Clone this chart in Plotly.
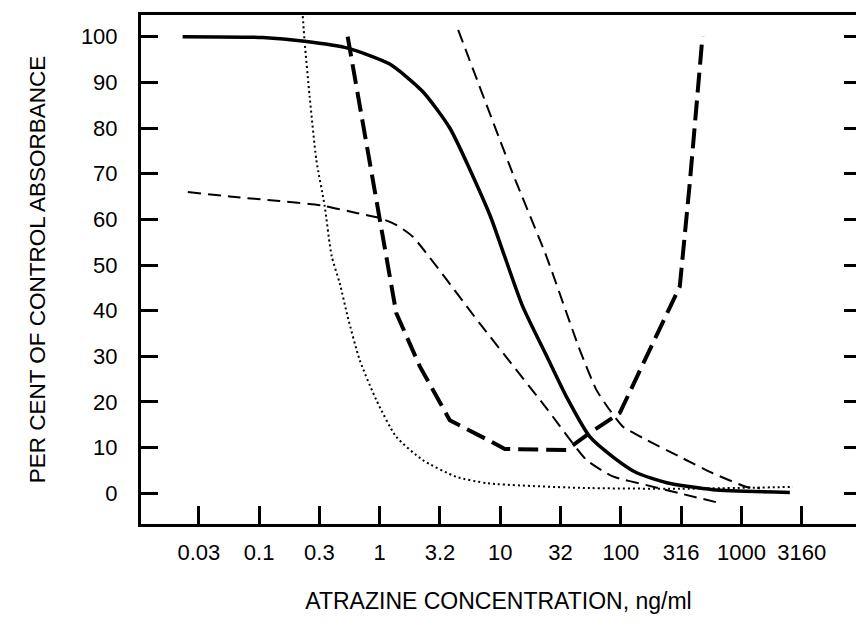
import plotly.graph_objects as go

# ---- data ----
conc_ticks = [0.0316, 0.1, 0.316, 1, 3.16, 10, 31.6, 100, 316, 1000, 3160]
conc_tick_labels = ["0.03", "0.1", "0.3", "1", "3.2", "10", "32", "100", "316", "1000", "3160"]
pct_ticks = [0, 10, 20, 30, 40, 50, 60, 70, 80, 90, 100]

solid_x = [0.0232, 0.107, 0.238, 0.542, 1.21, 2.27, 3.81, 8.18, 10.5, 15.3, 24.3, 35.6, 55.2, 85.7, 135, 240, 579, 2520]
solid_y = [100, 99.8, 99, 97.5, 94, 88, 80, 61, 53, 41, 30, 21, 12.4, 8, 4.5, 2.3, 0.8, 0.2]

dotted_x = [0.230, 0.238, 0.262, 0.298, 0.349, 0.399, 0.466, 0.542, 0.682, 0.938, 1.37, 2.27, 4.33, 7.87, 45.6, 308, 2675]
dotted_y = [104.5, 99, 87, 73, 63, 52, 46, 38.7, 29.2, 20.4, 12.4, 7.3, 3.6, 2.2, 1.2, 1.0, 1.4]

thick_x = [0.542, 1.37, 2.15, 3.81, 7.87, 10.9, 35.4, 55.2, 98, 308, 373, 424, 475]
thick_y = [100, 39.5, 27.8, 16, 11.7, 9.7, 9.5, 13.2, 17.6, 45.3, 68, 86.3, 100]

dashA_x = [0.0256, 0.0569, 0.148, 0.336, 0.640, 1.0, 1.37, 1.88, 6.75, 24.2, 51.9, 85.7, 163, 308, 701]
dashA_y = [66, 65, 64, 63, 61.4, 60.3, 58.8, 56.2, 37.2, 18.6, 7.3, 3.7, 1.8, 0, -2.3]

dashB_x = [4.47, 12.7, 24.2, 45.6, 62.8, 81.0, 104, 163, 308, 579, 1104, 1422]
dashB_y = [101.5, 70, 51.8, 31.4, 22.6, 18.2, 14.6, 11.7, 8, 4.4, 1.4, 1.1]

FONT = "Liberation Sans, Arial, Helvetica, sans-serif"

fig = go.Figure()
fig.add_trace(go.Scatter(x=dotted_x, y=dotted_y, mode="lines",
                         line=dict(color="black", width=2, dash="2px,3px", shape="spline", smoothing=0.6)))
fig.add_trace(go.Scatter(x=dashA_x, y=dashA_y, mode="lines",
                         line=dict(color="black", width=2, dash="13px,7px", shape="spline", smoothing=0.5)))
fig.add_trace(go.Scatter(x=solid_x, y=solid_y, mode="lines",
                         line=dict(color="black", width=3.5, shape="spline", smoothing=0.6)))
fig.add_trace(go.Scatter(x=thick_x, y=thick_y, mode="lines",
                         line=dict(color="black", width=4, dash="20px,8px")))
fig.add_trace(go.Scatter(x=dashB_x, y=dashB_y, mode="lines", yaxis="y2",
                         line=dict(color="black", width=2, dash="13px,7px", shape="spline", smoothing=0.5)))

yrange = [-6.72, 104.75]
fig.update_layout(
    width=856, height=633,
    margin=dict(l=141, r=0, t=15, b=109),
    paper_bgcolor="white", plot_bgcolor="white",
    showlegend=False,
    font=dict(family=FONT, color="black"),
    xaxis=dict(type="log", range=[-1.98, 3.95], tickvals=conc_ticks, ticktext=conc_tick_labels,
               ticks="inside", ticklen=18, tickwidth=2.5, tickcolor="black",
               showline=True, linewidth=3, linecolor="black", mirror=True,
               showgrid=False, zeroline=False, automargin=False,
               tickfont=dict(size=22, family=FONT, color="black"), ticklabelstandoff=7,
               title=dict(text="ATRAZINE CONCENTRATION, ng/ml", font=dict(size=23, family=FONT, color="black"),
                          standoff=29)),
    yaxis=dict(range=yrange, tickvals=pct_ticks, ticks="inside", ticklen=17, tickwidth=3, tickcolor="black",
               showline=True, linewidth=3, linecolor="black", mirror=False,
               showgrid=False, zeroline=False, automargin=False,
               tickfont=dict(size=22, family=FONT, color="black"), ticklabelstandoff=16,
               title=dict(text="PER CENT OF CONTROL ABSORBANCE", font=dict(size=22.5, family=FONT, color="black"),
                          standoff=30)),
    yaxis2=dict(range=yrange, tickvals=pct_ticks, overlaying="y", side="right", anchor="x",
                ticks="inside", ticklen=12, tickwidth=3, tickcolor="black",
                showticklabels=False, showline=False, showgrid=False, zeroline=False, automargin=False),
)

fig.write_html("out.html")
